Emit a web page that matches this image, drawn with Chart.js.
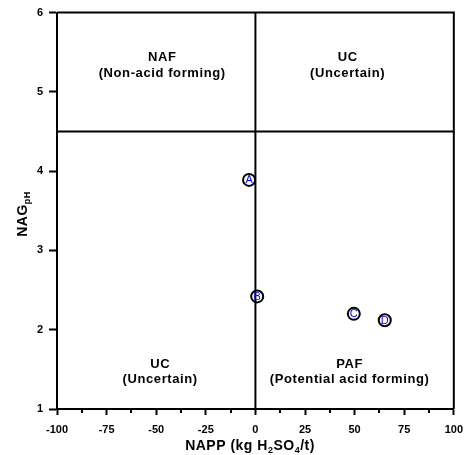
<!DOCTYPE html>
<html>
<head>
<meta charset="utf-8">
<script src="https://cdn.jsdelivr.net/npm/chart.js@4"></script>
<style>
html,body{margin:0;padding:0;background:#fff;}
canvas{display:block;}
</style>
</head>
<body>
<canvas id="c" width="471" height="455"></canvas>
<script>
// ---- data ----
const sampleLabels = ['A', 'B', 'C', 'D'];
const nappValues = [-3.2, 0.9, 49.6, 65.2];
const nagphValues = [3.89, 2.42, 2.2, 2.12];
const xTicks = [-100, -75, -50, -25, 0, 25, 50, 75, 100];
const xMinorTicks = [-87.5, -62.5, -37.5, -12.5, 12.5, 37.5, 62.5, 87.5];
const yTicks = [1, 2, 3, 4, 5, 6];
const nagThreshold = 4.5;
const nappThreshold = 0;
const regionTitles = ['NAF', 'UC', 'UC', 'PAF'];
const regionSubtitles = ['(Non-acid forming)', '(Uncertain)', '(Uncertain)', '(Potential acid forming)'];
const regionX = [-47, 46.5, -48, 47.5];
const regionTitleY = [5.44, 5.44, 1.56, 1.56];
const regionSubY = [5.23, 5.23, 1.37, 1.37];

const FONT = '"Liberation Sans", Arial, Helvetica, sans-serif';

const points = nappValues.map((v, i) => ({x: v, y: nagphValues[i]}));

const overlay = {
  id: 'overlay',
  afterDraw(chart) {
    const ctx = chart.ctx, a = chart.chartArea;
    const xs = chart.scales.x, ys = chart.scales.y;
    ctx.save();
    // frame top & right
    ctx.strokeStyle = '#000'; ctx.lineWidth = 2;
    ctx.beginPath();
    ctx.moveTo(a.left, a.top); ctx.lineTo(a.right, a.top); ctx.lineTo(a.right, a.bottom);
    ctx.stroke();
    // minor ticks
    ctx.lineWidth = 2;
    xMinorTicks.forEach(t => {
      const px = Math.round(xs.getPixelForValue(t));
      ctx.beginPath(); ctx.moveTo(px, a.bottom); ctx.lineTo(px, a.bottom + 4); ctx.stroke();
    });
    // region labels
    ctx.fillStyle = '#000'; ctx.textAlign = 'center'; ctx.textBaseline = 'middle';
    ctx.letterSpacing = '0.6px';
    regionTitles.forEach((t, i) => {
      ctx.font = 'bold 13px ' + FONT;
      ctx.fillText(t, xs.getPixelForValue(regionX[i]), ys.getPixelForValue(regionTitleY[i]));
      ctx.fillText(regionSubtitles[i], xs.getPixelForValue(regionX[i]), ys.getPixelForValue(regionSubY[i]));
    });
    ctx.letterSpacing = '0px';
    // sample letters
    ctx.fillStyle = '#0000ff'; ctx.font = '11px ' + FONT;
    const meta = chart.getDatasetMeta(2);
    meta.data.forEach((el, i) => {
      ctx.fillText(sampleLabels[i], el.x, el.y + 0.5);
    });
    // x axis title with subscripts
    ctx.fillStyle = '#000';
    ctx.letterSpacing = '0.5px';
    const parts = [['NAPP (kg H', 0], ['2', 1], ['SO', 0], ['4', 1], ['/t)', 0]];
    const measure = p => { ctx.font = (p[1] ? 'bold 9px ' : 'bold 14px ') + FONT; return ctx.measureText(p[0]).width; };
    let total = parts.reduce((s, p) => s + measure(p), 0);
    let x = 250 - total / 2;
    ctx.textAlign = 'left'; ctx.textBaseline = 'alphabetic';
    parts.forEach(p => {
      const w = measure(p);
      ctx.fillText(p[0], x, p[1] ? 453 : 450);
      x += w;
    });
    // y axis title rotated
    ctx.translate(27, 214);
    ctx.rotate(-Math.PI / 2);
    const yparts = [['NAG', 0], ['pH', 1]];
    total = yparts.reduce((s, p) => s + measure(p), 0);
    x = -total / 2;
    yparts.forEach(p => {
      const w = measure(p);
      ctx.fillText(p[0], x, p[1] ? 3 : 0);
      x += w;
    });
    ctx.restore();
  }
};

new Chart(document.getElementById('c'), {
  type: 'scatter',
  data: {
    datasets: [
      {
        data: [{x: xTicks[0], y: nagThreshold}, {x: xTicks[xTicks.length - 1], y: nagThreshold}],
        showLine: true, borderColor: '#000', borderWidth: 2, pointRadius: 0, fill: false
      },
      {
        data: [{x: nappThreshold, y: yTicks[0]}, {x: nappThreshold, y: yTicks[yTicks.length - 1]}],
        showLine: true, borderColor: '#000', borderWidth: 2, pointRadius: 0, fill: false
      },
      {
        data: points,
        pointRadius: 6, pointBorderWidth: 2, pointBorderColor: '#000',
        pointBackgroundColor: '#fff', showLine: false
      }
    ]
  },
  options: {
    responsive: false,
    devicePixelRatio: 1,
    animation: false,
    layout: {padding: {top: 10, right: 17, left: 0, bottom: 0}},
    plugins: {legend: {display: false}, tooltip: {enabled: false}},
    scales: {
      x: {
        type: 'linear', min: -100, max: 100,
        afterFit: s => { s.height = 46; },
        afterBuildTicks: s => { s.ticks = xTicks.map(v => ({value: v})); },
        grid: {drawOnChartArea: false, drawTicks: true, tickLength: 6, tickColor: '#000', tickWidth: 2},
        border: {display: true, color: '#000', width: 2},
        ticks: {color: '#000', font: {family: FONT, weight: 'bold', size: 11}, padding: 8, maxRotation: 0, autoSkip: false}
      },
      y: {
        type: 'linear', min: 1, max: 6,
        afterFit: s => { s.width = 57; },
        afterBuildTicks: s => { s.ticks = yTicks.map(v => ({value: v})); },
        grid: {drawOnChartArea: false, drawTicks: true, tickLength: 8, tickColor: '#000', tickWidth: 2},
        border: {display: true, color: '#000', width: 2},
        ticks: {color: '#000', font: {family: FONT, weight: 'bold', size: 11}, padding: 6, autoSkip: false}
      }
    }
  },
  plugins: [overlay]
});
</script>
</body>
</html>
